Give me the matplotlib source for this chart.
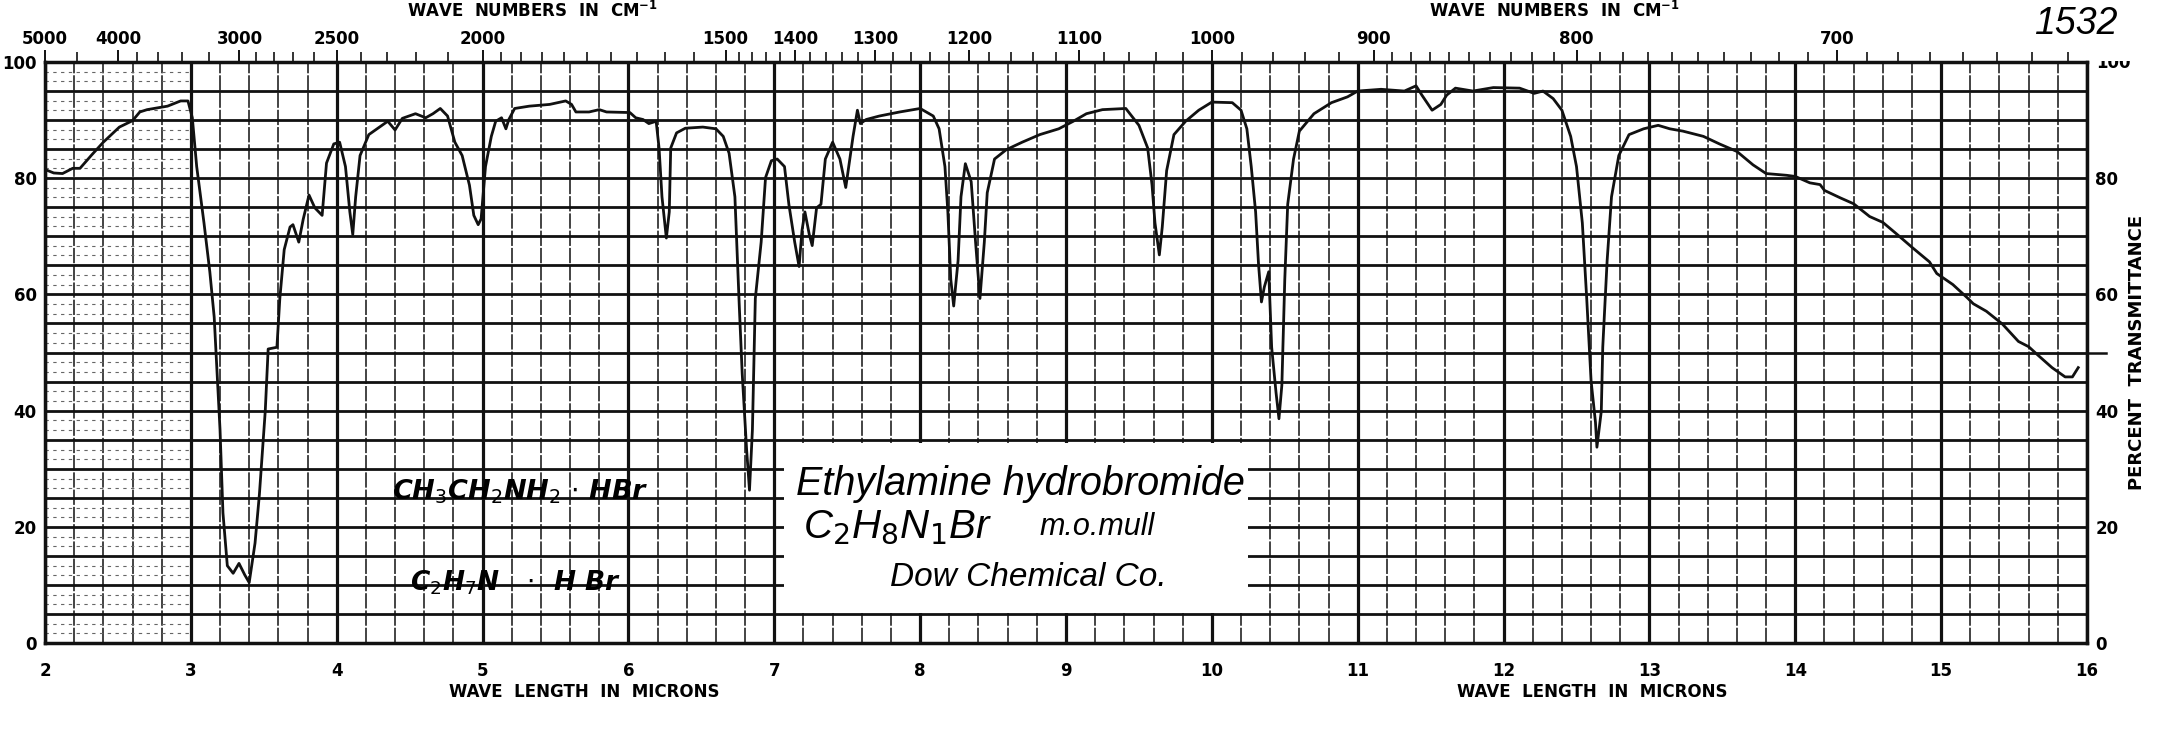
"""
IR spectrum chart sheet: Ethylamine hydrobromide (m.o. mull), Dow Chemical Co.
Percent transmittance vs wavelength (microns), wave numbers on the top axis.
"""

import matplotlib
matplotlib.use("Agg")
import matplotlib.pyplot as plt
from matplotlib.patches import Rectangle
from matplotlib.transforms import blended_transform_factory

# --- spectrum trace ----------------------------------------------------
wavelength_um = [
    1.97, 2.00, 2.06, 2.12, 2.19, 2.24, 2.32, 2.40, 2.51, 2.60, 2.65, 2.70,
    2.84, 2.93, 2.98, 3.01, 3.04, 3.09, 3.13, 3.16, 3.18, 3.20, 3.22, 3.25,
    3.29, 3.33, 3.37, 3.40, 3.44, 3.47, 3.51, 3.53, 3.59, 3.61, 3.64, 3.68,
    3.70, 3.74, 3.77, 3.81, 3.85, 3.90, 3.93, 3.98, 4.02, 4.06, 4.09, 4.11,
    4.13, 4.16, 4.22, 4.35, 4.40, 4.45, 4.54, 4.61, 4.66, 4.71, 4.76, 4.81,
    4.86, 4.91, 4.94, 4.97, 4.99, 5.02, 5.06, 5.09, 5.13, 5.16, 5.18, 5.22,
    5.32, 5.46, 5.57, 5.61, 5.64, 5.73, 5.80, 5.85, 6.01, 6.05, 6.10, 6.14,
    6.19, 6.21, 6.23, 6.26, 6.28, 6.29, 6.33, 6.39, 6.51, 6.60, 6.65, 6.69,
    6.73, 6.76, 6.78, 6.81, 6.83, 6.85, 6.87, 6.91, 6.94, 6.98, 7.02, 7.07,
    7.10, 7.14, 7.17, 7.19, 7.21, 7.24, 7.26, 7.29, 7.32, 7.35, 7.40, 7.45,
    7.49, 7.54, 7.57, 7.59, 7.63, 7.72, 7.86, 8.00, 8.09, 8.13, 8.17, 8.19,
    8.21, 8.23, 8.26, 8.28, 8.31, 8.35, 8.38, 8.41, 8.44, 8.46, 8.51, 8.59,
    8.70, 8.82, 8.95, 9.05, 9.14, 9.25, 9.41, 9.50, 9.56, 9.59, 9.61, 9.64,
    9.66, 9.69, 9.74, 9.82, 9.91, 10.00, 10.14, 10.20, 10.24, 10.27, 10.30,
    10.32, 10.34, 10.36, 10.39, 10.41, 10.44, 10.46, 10.48, 10.50, 10.52,
    10.56, 10.60, 10.70, 10.82, 10.93, 11.00, 11.16, 11.32, 11.40, 11.44,
    11.51, 11.57, 11.61, 11.67, 11.79, 11.93, 12.11, 12.21, 12.27, 12.34,
    12.40, 12.46, 12.50, 12.54, 12.57, 12.60, 12.63, 12.64, 12.67, 12.68,
    12.71, 12.74, 12.79, 12.86, 12.96, 13.06, 13.14, 13.23, 13.37, 13.48,
    13.60, 13.71, 13.80, 13.94, 14.00, 14.10, 14.17, 14.20, 14.31, 14.40,
    14.51, 14.60, 14.69, 14.81, 14.92, 14.97, 15.08, 15.18, 15.22, 15.31,
    15.42, 15.53, 15.60, 15.67, 15.76, 15.85, 15.90, 15.94,
]
transmittance = [
    81.2, 81.5, 80.9, 80.8, 81.7, 81.7, 84.0, 86.2, 88.8, 89.9, 91.4, 91.8,
    92.4, 93.3, 93.3, 90.4, 82.0, 72.3, 63.9, 56.1, 46.4, 36.7, 22.4, 13.3,
    12.0, 13.7, 11.7, 10.4, 17.2, 25.6, 39.9, 50.6, 50.9, 59.3, 67.7, 71.6,
    72.0, 69.0, 72.9, 77.1, 74.9, 73.6, 82.6, 85.9, 86.2, 82.0, 74.2, 70.3,
    76.8, 83.9, 87.5, 89.8, 88.3, 90.3, 91.1, 90.4, 91.1, 92.0, 90.7, 86.2,
    83.9, 78.8, 73.6, 72.0, 73.0, 82.0, 87.2, 89.8, 90.4, 88.5, 90.1, 92.0,
    92.4, 92.7, 93.3, 92.7, 91.4, 91.4, 91.8, 91.4, 91.3, 90.4, 90.1, 89.4,
    89.8, 85.2, 76.8, 69.7, 74.2, 85.2, 87.8, 88.6, 88.8, 88.5, 87.2, 84.3,
    76.8, 58.0, 46.4, 33.4, 26.3, 36.7, 59.3, 69.0, 80.1, 83.0, 83.3, 82.0,
    75.5, 69.0, 64.8, 71.0, 74.2, 70.3, 68.4, 74.9, 75.5, 83.3, 86.2, 83.3,
    78.4, 87.2, 91.7, 89.4, 90.1, 90.7, 91.4, 92.0, 90.7, 88.5, 82.0, 74.2,
    62.6, 58.0, 65.8, 76.8, 82.5, 79.4, 69.0, 59.3, 69.0, 77.5, 83.3, 84.9,
    86.2, 87.5, 88.5, 89.8, 91.1, 91.8, 92.0, 89.1, 85.2, 78.8, 72.3, 66.8,
    71.6, 81.3, 87.5, 89.8, 91.7, 93.1, 93.0, 91.7, 88.5, 82.0, 74.2,
    65.2, 58.7, 61.3, 63.9, 50.9, 43.1, 38.6, 44.4, 62.6, 75.5,
    83.3, 88.1, 91.1, 93.0, 94.0, 95.0, 95.3, 95.0, 95.9, 94.3,
    91.7, 92.7, 94.3, 95.5, 95.0, 95.6, 95.5, 94.6, 95.0, 93.7,
    91.7, 87.2, 82.0, 72.3, 59.3, 45.1, 38.0, 33.7, 39.9, 50.9,
    65.8, 76.8, 83.9, 87.5, 88.5, 89.1, 88.5, 88.1, 87.2, 85.9,
    84.6, 82.3, 80.8, 80.5, 80.3, 79.2, 78.9, 77.9, 76.6, 75.6,
    73.4, 72.4, 70.5, 67.9, 65.6, 63.6, 61.7, 59.4, 58.4, 57.1,
    54.9, 51.9, 51.0, 49.4, 47.4, 45.8, 45.8, 47.4,
]

# --- axis labels / ticks ----------------------------------------------
micron_ticks = list(range(2, 17))
pct_ticks = [0, 20, 40, 60, 80, 100]
wn_labeled = [5000, 4000, 3000, 2500, 2000, 1500, 1400, 1300, 1200,
              1100, 1000, 900, 800, 700]
wn_minor = ([4500, 3800, 3600, 3400, 3200]
            + list(range(2900, 2000, -100))
            + list(range(1950, 1500, -50))
            + [w for w in range(1480, 890, -20) if w % 100]
            + [w for w in range(890, 625, -10) if w % 100])

INK = "#111111"
HAND = ["Liberation Sans", "DejaVu Sans"]
plt.rcParams["font.family"] = ["DejaVu Sans"]

W, H = 2158, 739
fig = plt.figure(figsize=(W / 100, H / 100), dpi=100)
L, R, T, B = 45, 2087, 62, 643
ax = fig.add_axes([L / W, 1 - B / H, (R - L) / W, (B - T) / H])
ax.set_xlim(2, 16)
ax.set_ylim(0, 100)
xfig = blended_transform_factory(ax.transData, fig.transFigure)

# chart paper grid
for p in range(5, 100, 5):
    ax.axhline(p, color=INK, lw=2.0, zorder=1)
for k in range(71):
    x = 2 + k * 0.2
    if k % 5 == 0:
        ax.axvline(x, color=INK, lw=2.3, zorder=1)
    else:
        ax.axvline(x, color=INK, lw=1.1, ls=(0, (10, 1.3)), zorder=1)
# faint fine rulings in the short-wave corner
for p in range(0, 100, 5):
    for off in (1.7, 3.3):
        ax.plot([2.0, 3.0], [p + off, p + off], color="#666666", lw=0.8,
                ls=(0, (3, 4)), zorder=1)
# 50 % reference tick out past the right frame
ax.plot([16, 16.13], [50, 50], color=INK, lw=1.8, clip_on=False)

for s in ax.spines.values():
    s.set_linewidth(2.5)
    s.set_color(INK)

ax.set_xticks(micron_ticks)
ax.set_xticklabels([str(v) for v in micron_ticks])
ax.set_yticks(pct_ticks)
ax.set_yticklabels([str(v) for v in pct_ticks])
ax.tick_params(axis="x", length=0, pad=14, labelsize=12)
ax.tick_params(axis="y", length=0, pad=6, labelsize=12, labelright=True)
for lab in ax.get_xticklabels() + ax.get_yticklabels():
    lab.set_fontweight("bold")
# the 100 on the right is cut by the sheet edge: show only its lower part
right_labels = [t.label2 for t in ax.yaxis.get_major_ticks()]
right_labels[-1].set_visible(False)
fig.text((R + 9) / W, 1 - 63 / H, "100", fontsize=12, fontweight="bold",
         ha="left", va="center", zorder=1)
fig.patches.append(Rectangle(((R + 4) / W, 1 - 61 / H), 60 / W, 20 / H,
                             transform=fig.transFigure, facecolor="white",
                             edgecolor="none", zorder=2))

# top wave-number scale
top = ax.twiny()
top.set_xlim(2, 16)
top.set_xticks([1e4 / w for w in wn_labeled])
top.set_xticklabels([str(w) for w in wn_labeled])
top.set_xticks([1e4 / w for w in wn_minor], minor=True)
top.tick_params(axis="x", which="major", length=9, width=1.4, pad=1,
                labelsize=12, direction="out", color=INK)
top.tick_params(axis="x", which="minor", length=7, width=1.2,
                direction="out", color=INK)
for lab in top.get_xticklabels():
    lab.set_fontweight("bold")
for s in top.spines.values():
    s.set_visible(False)

# axis titles as printed on the sheet
for xu in (5.34, 12.35):
    ax.text(xu, 1 - 11 / H, r"WAVE  NUMBERS  IN  CM$^{\mathbf{-1}}$",
            transform=xfig, fontsize=12, fontweight="bold",
            ha="center", va="center")
for xu in (5.70, 12.61):
    ax.text(xu, 1 - 692 / H, "WAVE  LENGTH  IN  MICRONS",
            transform=xfig, fontsize=12, fontweight="bold",
            ha="center", va="center")
fig.text(2137 / W, 1 - 352 / H, "PERCENT  TRANSMITTANCE", rotation=90,
         fontsize=13, fontweight="bold", ha="center", va="center")
fig.text(2076 / W, 1 - 24 / H, "1532", fontsize=27, family=HAND,
         style="italic", ha="center", va="center", zorder=3)

# pasted label
ax.add_patch(Rectangle((7.07, 5.2), 3.18, 29.3, facecolor="white",
                       edgecolor="none", zorder=3))
ax.text(7.15, 27.3, "Ethylamine hydrobromide", family=HAND, style="italic",
        fontsize=28.5, ha="left", va="center", zorder=6)
ax.text(7.20, 20.0, r"C$_2$H$_8$N$_1$Br", family=HAND, style="italic",
        fontsize=29, ha="left", va="center", zorder=6)
ax.text(8.82, 20.0, "m.o.mull", family=HAND, style="italic",
        fontsize=22, ha="left", va="center", zorder=6)
ax.text(7.79, 11.2, "Dow Chemical Co.", family=HAND, style="italic",
        fontsize=24, ha="left", va="center", zorder=6)

# hand-lettered formulas
ax.text(4.38, 26.0, r"CH$_3$CH$_2$NH$_2$ $\cdot$ HBr", style="italic",
        fontweight="heavy", fontsize=19.5, ha="left", va="center", zorder=6)
ax.text(4.50, 10.3, r"C$_2$H$_7$N   $\cdot$  H Br", style="italic",
        fontweight="heavy", fontsize=19, ha="left", va="center", zorder=6)

ax.plot(wavelength_um, transmittance, color=INK, lw=2.0, zorder=5,
        solid_joinstyle="round")

fig.savefig("out.png", dpi=100, facecolor="white")
